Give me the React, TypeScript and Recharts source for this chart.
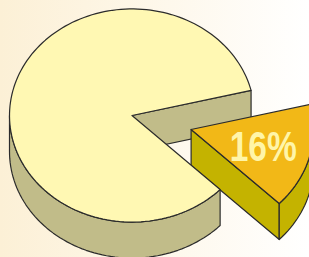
import React from 'react';
import { PieChart, Pie } from 'recharts';

// slice data, counter-clockwise from the cut at the right
const sliceNames = ['Rest', 'Share'];
const sliceValues = [84, 16];

const topColors = ['#FFF8B3', '#F2B817'];
const wallColors = ['#C1BC89', '#C4B300'];
const OUTLINE = '#2b2b2b';
const FLATTEN = 0.87; // ellipse ry / rx
const DEPTH = 36;
const EXPLODED = 1;
const EXPLODE_FRAC = 0.5;
const LABEL_FRAC = 0.61;

const data = sliceNames.map((name, i) => ({ name, value: sliceValues[i] }));

const RAD = Math.PI / 180;

type Pt = { x: number; y: number };

function sliceGeom(p: any) {
  const { cx, cy, outerRadius, startAngle, endAngle, midAngle, index } = p;
  const rx = outerRadius;
  const ry = rx * FLATTEN;
  let ox = 0;
  let oy = 0;
  if (index === EXPLODED) {
    ox = rx * EXPLODE_FRAC * Math.cos(midAngle * RAD);
    oy = -ry * EXPLODE_FRAC * Math.sin(midAngle * RAD);
  }
  const c = { x: cx + ox, y: cy + oy };
  const pt = (a: number, dy = 0): Pt => ({
    x: c.x + rx * Math.cos(a * RAD),
    y: c.y - ry * Math.sin(a * RAD) + dy,
  });
  const s = Math.min(startAngle, endAngle);
  const e = Math.max(startAngle, endAngle);
  return { c, rx, ry, pt, s, e, mid: midAngle };
}

function arc(pt: (a: number, dy?: number) => Pt, a1: number, a2: number, dy = 0): Pt[] {
  const n = Math.max(2, Math.ceil(Math.abs(a2 - a1) / 2));
  const out: Pt[] = [];
  for (let i = 0; i <= n; i++) out.push(pt(a1 + ((a2 - a1) * i) / n, dy));
  return out;
}

const toPath = (pts: Pt[]) =>
  pts.map((q, i) => `${i ? 'L' : 'M'}${q.x.toFixed(2)},${q.y.toFixed(2)}`).join(' ') + ' Z';

// side walls (drawn first, for every slice)
const renderWalls = (props: any) => {
  const { c, pt, s, e } = sliceGeom(props);
  const i = props.index;
  const parts: React.ReactNode[] = [];

  // cut wall facing the viewer
  if (Math.cos(s * RAD) > 0) {
    const a = pt(s);
    parts.push(
      <path
        key="cs"
        d={toPath([c, a, { x: a.x, y: a.y + DEPTH }, { x: c.x, y: c.y + DEPTH }])}
        fill={wallColors[i]}
        stroke={OUTLINE}
        strokeWidth={1.2}
        strokeLinejoin="round"
      />
    );
  }
  if (Math.cos(e * RAD) < 0) {
    const a = pt(e);
    parts.push(
      <path
        key="ce"
        d={toPath([c, a, { x: a.x, y: a.y + DEPTH }, { x: c.x, y: c.y + DEPTH }])}
        fill={wallColors[i]}
        stroke={OUTLINE}
        strokeWidth={1.2}
        strokeLinejoin="round"
      />
    );
  }

  // outer curved wall, front half only
  for (let k = -1; k <= 2; k++) {
    const lo = Math.max(s, k * 360 + 180);
    const hi = Math.min(e, k * 360 + 360);
    if (hi - lo > 0.1) {
      const pts = [...arc(pt, lo, hi), ...arc(pt, hi, lo, DEPTH)];
      parts.push(
        <path
          key={`o${k}`}
          d={toPath(pts)}
          fill={wallColors[i]}
          stroke={OUTLINE}
          strokeWidth={1.2}
          strokeLinejoin="round"
        />
      );
    }
  }
  return <g key={`w${i}`}>{parts}</g>;
};

// top faces and the percent label
const renderTops = (props: any) => {
  const { c, rx, ry, pt, s, e, mid } = sliceGeom(props);
  const i = props.index;
  const pts = [c, ...arc(pt, s, e)];
  const lx = c.x + LABEL_FRAC * rx * Math.cos(mid * RAD);
  const ly = c.y - LABEL_FRAC * ry * Math.sin(mid * RAD);
  return (
    <g key={`t${i}`}>
      <path d={toPath(pts)} fill={topColors[i]} stroke={OUTLINE} strokeWidth={1.2} strokeLinejoin="round" />
      {i === EXPLODED && (
        <g transform={`translate(${lx},${ly}) scale(0.78,1)`}>
          <text
            x={0}
            y={14}
            textAnchor="middle"
            fill="#FFF5A8"
            fontFamily="'Liberation Sans', Arial, sans-serif"
            fontWeight="bold"
            fontSize={43}
          >
            {`${Math.round(props.percent * 100)}%`}
          </text>
        </g>
      )}
    </g>
  );
};

export default function App() {
  return (
    <div
      style={{
        position: 'absolute',
        left: 0,
        top: 0,
        width: 309,
        height: 257,
        overflow: 'hidden',
        background: 'linear-gradient(to right, #FCF0D6 0%, #FEF8EC 55%, #FFFFFF 100%)',
      }}
    >
      <PieChart width={309} height={257} margin={{ top: 0, right: 0, bottom: 0, left: 0 }}>
        <Pie
          data={data}
          dataKey="value"
          nameKey="name"
          cx={132}
          cy={115.5}
          outerRadius={122.5}
          startAngle={13.6}
          endAngle={373.6}
          fill="none"
          stroke="none"
          labelLine={false}
          label={renderWalls}
          isAnimationActive={false}
        />
        <Pie
          data={data}
          dataKey="value"
          nameKey="name"
          cx={132}
          cy={115.5}
          outerRadius={122.5}
          startAngle={13.6}
          endAngle={373.6}
          fill="none"
          stroke="none"
          labelLine={false}
          label={renderTops}
          isAnimationActive={false}
        />
      </PieChart>
    </div>
  );
}
